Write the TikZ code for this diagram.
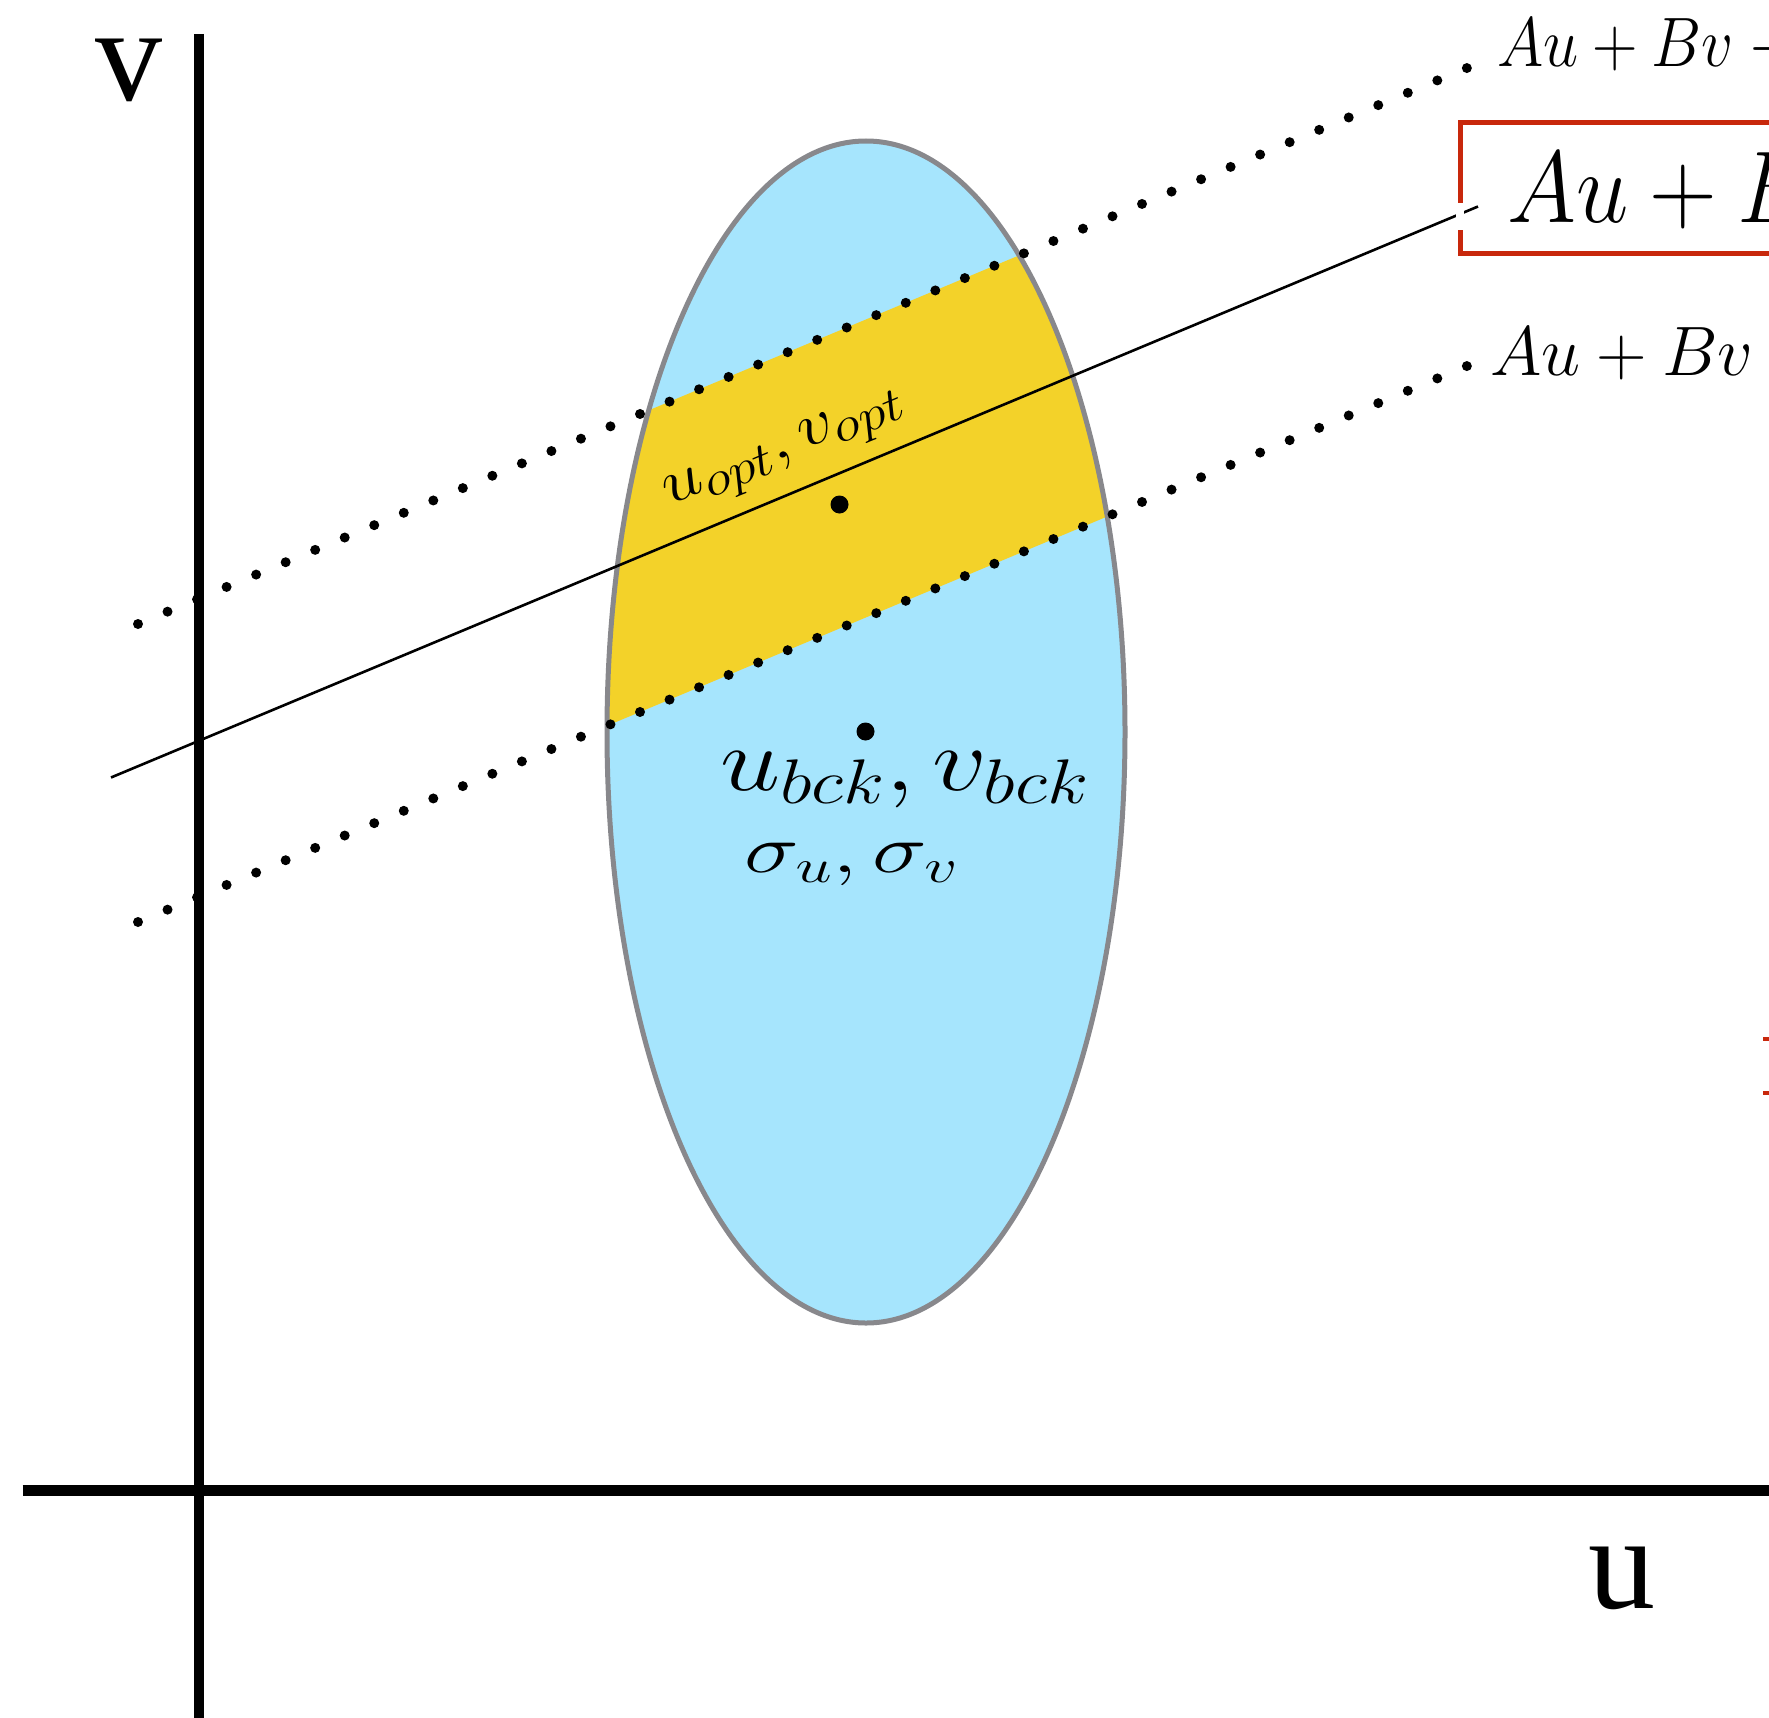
\RequirePackage{fix-cm}
\documentclass[tikz,border=0pt]{standalone}
\usepackage{fontspec}
\newfontfamily\axfont{Liberation Serif}
\DeclareMathSizes{62}{62}{48}{37}
\definecolor{ellfill}{HTML}{A6E5FD}
\definecolor{ellline}{HTML}{88888C}
\definecolor{bandfill}{HTML}{F3D229}
\definecolor{boxred}{HTML}{C8280C}
\tikzset{
  axisline/.style={line width=10.5pt, black},
  dotline/.style={line width=10pt, line cap=round, dash pattern=on 0pt off 32.01pt, black},
  thinline/.style={line width=2.6pt, black},
  ptdot/.style={circle, fill=black, inner sep=0pt, minimum size=18pt},
  eqlabel/.style={anchor=base west, inner sep=0pt, font=\fontsize{70}{70}\selectfont},
  axlabel/.style={anchor=center, inner sep=0pt, font=\axfont\fontsize{134}{134}\selectfont},
}
\begin{document}
\begin{tikzpicture}[x=1pt,y=-1pt]
\useasboundingbox (0,0) rectangle (1769,1718);
\clip (0,0) rectangle (1769,1718);
% coordinates
\coordinate (ua) at (138,624);
\coordinate (ub) at (1467,68);
\coordinate (la) at (138,922);
\coordinate (lb) at (1467,366);
\coordinate (ma) at (111,777.5);
\coordinate (mb) at (1478,206.5);
% ellipse
\fill[ellfill] (866,732) ellipse [x radius=259pt, y radius=591pt];
\begin{scope}
  \clip (866,732) ellipse [x radius=259pt, y radius=591pt];
  \fill[bandfill] (ua) -- (ub) -- (lb) -- (la) -- cycle;
\end{scope}
\draw[ellline, line width=5pt] (866,732) ellipse [x radius=259pt, y radius=591pt];
% dotted bounds and solid line
\draw[dotline] (ua) -- (ub);
\draw[dotline] (la) -- (lb);
\draw[thinline] (ma) -- (mb);
% points
\node[ptdot] (popt) at (839.5,504.5) {};
\node[ptdot] (pbck) at (865.5,731.5) {};
% labels inside
\node[anchor=base west, inner sep=0pt, rotate=22.66, font=\fontsize{62}{62}\selectfont] (lopt) at (669,506) {\scalebox{1.17}[1]{$u_{opt}, v_{opt}$}};
\node[anchor=base west, inner sep=0pt, font=\fontsize{90}{90}\selectfont] (lbck) at (720,790) {\scalebox{1.2}[1]{$u_{bck}, v_{bck}$}};
\node[anchor=base west, inner sep=0pt, font=\fontsize{68}{68}\selectfont] (lsig) at (744,872) {\scalebox{1.36}[1]{$\sigma_u, \sigma_v$}};
% right-hand labels
\node[eqlabel] (ltop) at (1497,67) {\scalebox{0.9}[1]{$Au + Bv -{}$}};
\node[eqlabel] (lmid) at (1490,375) {$Au + Bv$};
\draw[boxred, line width=5pt] (1800,123) -- (1460,123) -- (1460,253) -- (1800,253);
\draw[white, line width=8pt] (1460,203) -- (1460,230);
\node[anchor=base west, inner sep=0pt, font=\fontsize{102}{102}\selectfont] (lbig) at (1507,222) {\scalebox{0.92}[1]{$Au + Bv$}};
\draw[boxred, line width=4pt] (1763,1039) -- (1780,1039);
\draw[boxred, line width=4pt] (1763,1093) -- (1780,1093);
% axes
\coordinate (vtop) at (199,34);
\coordinate (vbot) at (199,1730);
\coordinate (hleft) at (22.6,1490.5);
\coordinate (hright) at (1780,1490.5);
\draw[axisline] (vtop) -- (vbot);
\draw[axisline] (hleft) -- (hright);
\node[axlabel] (lv) at (129,70) {v};
\node[axlabel] (lu) at (1622,1578.5) {u};
\end{tikzpicture}
\end{document}
